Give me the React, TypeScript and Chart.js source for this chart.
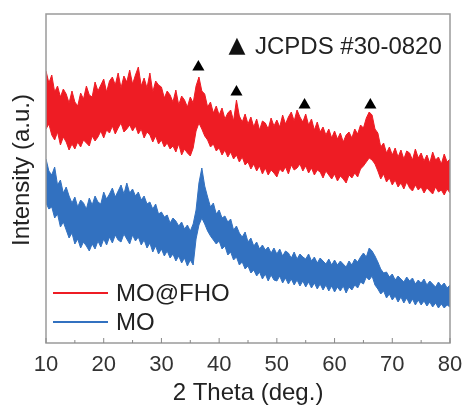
import React, { useEffect, useRef } from "react";
import { Chart, registerables } from "chart.js";

Chart.register(...registerables);

const twoTheta = [
  10,10.5,11,11.5,12,12.5,13,13.5,14,14.5,
  15,15.5,16,16.5,17,17.5,18,18.5,19,19.5,
  20,20.5,21,21.5,22,22.5,23,23.5,24,24.5,
  25,25.5,26,26.5,27,27.5,28,28.5,29,29.5,
  30,30.5,31,31.5,32,32.5,33,33.5,34,34.5,
  35,35.5,36,36.5,37,37.5,38,38.5,39,39.5,
  40,40.5,41,41.5,42,42.5,43,43.5,44,44.5,
  45,45.5,46,46.5,47,47.5,48,48.5,49,49.5,
  50,50.5,51,51.5,52,52.5,53,53.5,54,54.5,
  55,55.5,56,56.5,57,57.5,58,58.5,59,59.5,
  60,60.5,61,61.5,62,62.5,63,63.5,64,64.5,
  65,65.5,66,66.5,67,67.5,68,68.5,69,69.5,
  70,70.5,71,71.5,72,72.5,73,73.5,74,74.5,
  75,75.5,76,76.5,77,77.5,78,78.5,79,79.5,
  80,
];

// MO@FHO noise band (upper / lower envelope), arbitrary intensity units
const moFhoUpper = [
  272,260,268,251,257,246,254,249,240,252,
  241,237,250,244,257,248,246,261,252,258,
  264,251,262,266,258,270,255,267,261,273,
  259,268,276,257,265,255,270,251,262,258,
  256,245,252,248,241,253,238,247,243,236,
  246,240,257,266,252,249,236,241,230,237,
  228,235,224,230,233,222,243,227,221,229,
  219,226,216,224,213,222,220,214,225,217,
  223,216,228,219,226,231,222,233,226,221,
  229,218,224,213,221,211,216,208,214,205,
  212,204,210,201,208,211,205,214,209,218,
  215,225,231,228,214,210,196,200,190,196,
  188,195,186,193,184,192,190,183,194,185,
  190,182,188,180,191,183,186,179,189,181,
  184,
];
const moFhoLower = [
  214,219,208,203,211,198,206,201,193,199,
  194,201,196,203,200,197,207,202,206,212,
  205,213,210,217,209,215,220,211,214,218,
  212,217,209,214,205,211,208,201,207,199,
  203,196,200,194,197,191,199,188,194,190,
  187,195,212,220,214,207,203,196,199,192,
  195,188,193,186,191,184,188,181,186,178,
  181,174,179,172,177,169,175,168,173,170,
  166,174,171,176,169,178,173,175,179,172,
  177,170,175,168,173,171,165,172,168,164,
  169,162,167,164,160,168,165,170,166,174,
  177,181,185,183,179,172,164,169,161,165,
  158,163,156,160,154,161,155,152,158,153,
  156,150,155,152,149,156,151,153,148,154,
  150,
];

// MO noise band
const moUpper = [
  184,172,168,176,158,163,150,156,147,140,
  146,136,143,140,134,145,138,147,141,139,
  151,144,149,155,146,152,158,149,160,150,
  154,147,151,143,147,139,141,134,139,129,
  131,126,128,120,125,122,117,121,114,118,
  112,119,133,160,175,157,146,136,140,129,
  133,125,127,121,124,113,117,110,106,111,
  101,105,97,101,94,98,93,96,90,95,
  89,94,87,92,90,85,91,84,89,86,
  84,89,82,86,80,85,82,79,84,78,
  83,78,82,79,76,82,78,84,81,86,
  90,86,95,92,87,81,74,70,71,66,
  69,63,67,64,61,66,62,65,59,63,
  60,64,58,62,59,56,61,57,60,55,
  58,
];
const moLower = [
  140,134,136,125,129,116,121,113,105,110,
  99,104,95,101,97,92,99,94,102,96,
  104,98,106,100,108,103,101,109,104,99,
  108,102,106,98,103,95,100,91,97,89,
  94,87,92,85,89,82,87,80,85,77,
  83,78,104,118,125,119,112,107,103,99,
  102,94,97,88,91,83,86,78,81,74,
  77,70,73,67,71,64,69,62,68,63,
  62,67,60,65,59,64,58,63,57,62,
  56,61,55,60,54,59,53,58,52,57,
  51,56,52,57,50,56,53,58,55,61,
  59,66,63,67,58,54,49,52,45,49,
  43,47,41,46,40,45,39,44,38,43,
  38,42,37,41,36,40,35,39,35,38,
  36,
];

// JCPDS #30-0820 reference markers
const refPeaks = [36.4, 43.0, 54.8, 66.2];
const refMarkY = [276, 251, 238, 238];

const seriesNames = ["MO@FHO", "MO"];
const seriesColors = ["#ee1c24", "#3271c0"];
const xTicks = [10, 20, 30, 40, 50, 60, 70, 80];
const FONT = "'Liberation Sans', Arial, sans-serif";

const pts = (ys: number[]) => twoTheta.map((x, i) => ({ x, y: ys[i] }));

export default function App() {
  const ref = useRef<HTMLCanvasElement>(null);
  useEffect(() => {
    const canvas = ref.current!;
    const decor = {
      id: "decor",
      afterDraw(chart: any) {
        const { ctx, chartArea } = chart;
        const xs = chart.scales.x;
        ctx.save();
        ctx.strokeStyle = "#9a9a9a";
        ctx.lineWidth = 1.5;
        ctx.strokeRect(chartArea.left, chartArea.top, chartArea.right - chartArea.left, chartArea.bottom - chartArea.top);
        ctx.strokeStyle = "#888";
        ctx.lineWidth = 1;
        for (let v = 10; v <= 80; v += 5) {
          const px = xs.getPixelForValue(v);
          const len = v % 10 === 0 ? 5 : 3;
          ctx.beginPath();
          ctx.moveTo(px, chartArea.bottom);
          ctx.lineTo(px, chartArea.bottom - len);
          ctx.stroke();
        }
        ctx.fillStyle = "#222";
        ctx.font = `24px ${FONT}`;
        ctx.textAlign = "center";
        ctx.textBaseline = "middle";
        ctx.translate(22, 170);
        ctx.rotate(-Math.PI / 2);
        ctx.fillText("Intensity (a.u.)", 0, 0);
        ctx.restore();

        ctx.save();
        ctx.fillStyle = "#111";
        ctx.textBaseline = "middle";
        ctx.textAlign = "center";
        ctx.font = "22px 'DejaVu Sans', sans-serif";
        ctx.fillText("▲", 237, 46);
        ctx.font = `24px ${FONT}`;
        ctx.fillStyle = "#222";
        ctx.textAlign = "left";
        ctx.fillText("JCPDS #30-0820", 255, 47);
        const ly = [293, 322];
        seriesNames.forEach((n, i) => {
          ctx.strokeStyle = seriesColors[i];
          ctx.lineWidth = 2;
          ctx.beginPath();
          ctx.moveTo(53, ly[i]);
          ctx.lineTo(108, ly[i]);
          ctx.stroke();
          ctx.fillStyle = "#222";
          ctx.fillText(n, 116, ly[i] + 1);
        });
        ctx.restore();
      },
    };
    const band = (label: string, data: number[], color: string, fill: any) => ({
      label,
      data: pts(data),
      borderColor: color,
      backgroundColor: color,
      borderWidth: 1,
      pointRadius: 0,
      fill,
      tension: 0,
    });
    const chart = new Chart(canvas, {
      type: "line",
      data: {
        datasets: [
          band("MO@FHO upper", moFhoUpper, seriesColors[0], false),
          band("MO@FHO lower", moFhoLower, seriesColors[0], "-1"),
          band("MO upper", moUpper, seriesColors[1], false),
          band("MO lower", moLower, seriesColors[1], "-1"),
          {
            label: "JCPDS",
            type: "scatter",
            data: refPeaks.map((x, i) => ({ x, y: refMarkY[i] })),
            pointStyle: "triangle",
            pointRadius: 7,
            backgroundColor: "#000",
            borderColor: "#000",
            borderWidth: 0,
            showLine: false,
            order: -1,
          } as any,
        ],
      },
      options: {
        responsive: false,
        animation: false,
        layout: { padding: { left: 46, right: 14, top: 14, bottom: 0 } },
        plugins: { legend: { display: false }, tooltip: { enabled: false } },
        scales: {
          x: {
            type: "linear",
            min: 10,
            max: 80,
            afterBuildTicks: (s: any) => {
              s.ticks = xTicks.map((v) => ({ value: v }));
            },
            afterFit: (s: any) => {
              s.height = 66;
              s.paddingLeft = 0;
              s.paddingRight = 0;
            },
            grid: { display: false, drawTicks: false },
            border: { display: false },
            ticks: {
              padding: 9,
              color: "#333",
              font: { family: FONT, size: 22 },
              maxRotation: 0,
            },
            title: {
              display: true,
              text: "2 Theta (deg.)",
              color: "#222",
              font: { family: FONT, size: 24 },
              padding: { top: 0, bottom: 1 },
            },
          },
          y: { display: false, min: 0, max: 329 },
        },
      },
      plugins: [decor],
    });
    return () => chart.destroy();
  }, []);
  return (
    <div style={{ position: "absolute", left: 0, top: 0, width: 464, height: 409, background: "#fff" }}>
      <canvas ref={ref} width={464} height={409} />
    </div>
  );
}
